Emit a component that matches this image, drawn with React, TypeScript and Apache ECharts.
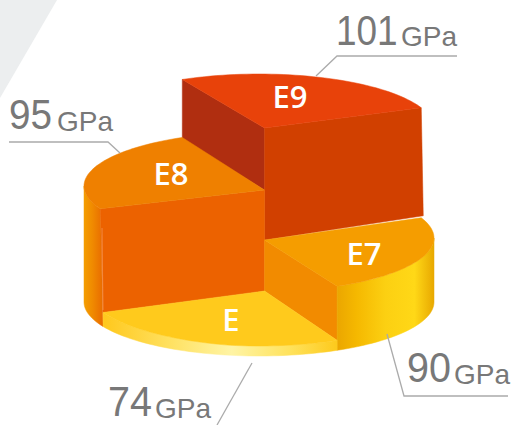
import React, { useEffect, useRef } from "react";
import * as echarts from "echarts";

// Data
const categories = ["E9", "E8", "E7", "E"];
const modulus = [101, 95, 90, 74];
const unit = "GPa";
const sliceFrom = [244, 155, 338, 63.5]; // pie angle of each slice (drawn on a squashed circle)
const sliceTo = [338, 244, 423.5, 153];
const sliceLevel = [128, 186, 238, 292]; // y of each slice's top surface
const apexLevel = [128, 190, 240, 291];

// Layout
const W = 513;
const H = 425;
const CX = 259;
const RX = 175;
const RY = 54;
const APEX_X = 264.5;
const BASE = 302;

const topColors = ["#e8420a", "#ef8000", "#f59d00", "#ffca1c"];
const labelPos = [
  [290, 96],
  [171, 173],
  [364, 253],
  [231, 319],
];
const valueLayout = [
  { x: 336, y: 51, sx: 0.86, ux: 401 },
  { x: 9, y: 136, sx: 0.9, ux: 57 },
  { x: 407, y: 389, sx: 0.92, ux: 454 },
  { x: 108, y: 423, sx: 0.92, ux: 155 },
];
const unitDrop = -1;
const leaders = [
  [[316, 76], [337, 56], [457, 56]],
  [[120, 153], [108, 142], [9, 142]],
  [[387, 334], [404, 396], [508, 396]],
  [[252, 363], [217, 425]],
];

const rad = (d: number) => (d * Math.PI) / 180;
const rim = (t: number, level: number) => [CX + RX * Math.cos(rad(t)), level + RY * Math.sin(rad(t))];
const arc = (a: number, b: number, level: number, tilt = 0) => {
  const pts: number[][] = [];
  const n = Math.max(2, Math.ceil(Math.abs(b - a) / 2));
  for (let k = 0; k <= n; k++) {
    const t = a + ((b - a) * k) / n;
    pts.push(rim(t, level - tilt * Math.max(0, (t - 100) / 53)));
  }
  return pts;
};
const hGrad = (x0: number, x1: number, stops: [number, string][]) =>
  new echarts.graphic.LinearGradient(x0, 0, x1, 0, stops.map(([offset, color]) => ({ offset, color })), true);

export default function App() {
  const ref = useRef<HTMLDivElement>(null);
  useEffect(() => {
    const chart = echarts.init(ref.current!, undefined, { renderer: "svg" });

    const renderItem = (_: any, api: any) => {
      const i = api.value(0);
      const from = sliceFrom[i];
      const to = sliceTo[i];
      const lv = sliceLevel[i];
      const ap = apexLevel[i];
      const c = (p: number[]) => api.coord(p);
      const poly = (pts: number[][], fill: any, stroke?: any) => ({
        type: "polygon",
        shape: { points: pts.map(c) },
        style: { fill, stroke: stroke ?? fill, lineWidth: 0.5 },
      });
      const children: any[] = [];
      const apex = [APEX_X, ap];
      if (i === 0) {
        children.push(
          poly([apex, rim(from, lv), [rim(from, lv)[0], rim(from, sliceLevel[1])[1] + 2], [APEX_X, apexLevel[1]]], "#b02e10"),
          poly([apex, rim(to, lv), [rim(to, sliceLevel[2])[0] + 2, rim(to, sliceLevel[2])[1] - 2], [APEX_X, apexLevel[2]]], "#d14000"),
        );
      }
      if (i === 1) {
        const foot = rim(sliceTo[3], sliceLevel[3] - 4);
        children.push(
          poly([...arc(from, 180, lv), ...arc(180, sliceTo[3], BASE)], hGrad(83, 104, [[0, "#f5a000"], [0.45, "#f08a00"], [1, "#e86800"]])),
          poly([apex, rim(from, lv), foot, [APEX_X, apexLevel[3]]], "#ec6200"),
          {
            type: "line",
            shape: { x1: c([102, 228])[0], y1: c([102, 228])[1], x2: c([103, 310])[0], y2: c([103, 310])[1] },
            style: { stroke: "#f39a5a", lineWidth: 1, opacity: 0.7 },
          },
        );
      }
      if (i === 2) {
        children.push(
          poly([apex, rim(to, lv), rim(to, sliceLevel[3]), [APEX_X, apexLevel[3]]], "#f28b00"),
          poly([...arc(to, 360, lv), ...arc(360, to, BASE)],
            hGrad(337, 434, [[0, "#eba600"], [0.2, "#f5b800"], [0.5, "#fcd012"], [0.8, "#ffd817"], [1, "#e8a800"]])),
        );
      }
      if (i === 3) {
        children.push(
          poly([...arc(from, to, lv, 4), ...arc(to, from, BASE)],
            hGrad(103, 337, [[0, "#ffc81c"], [0.3, "#ffe264"], [0.55, "#fff4a4"], [0.8, "#ffe25c"], [1, "#fdca1c"]])),
        );
      }
      children.push(poly([apex, ...arc(from, to, lv, i === 3 ? 4 : 0)], topColors[i]));
      children.push({
        type: "text",
        x: c(labelPos[i])[0],
        y: c(labelPos[i])[1],
        style: {
          text: categories[i],
          fill: "#ffffff",
          font: '600 31px "Open Sans", sans-serif',
          textAlign: "center",
          verticalAlign: "middle",
        },
      });
      return { type: "group", children };
    };

    const renderValue = (_: any, api: any) => {
      const i = api.value(0);
      const v = valueLayout[i];
      const leader = leaders[i].map((p) => api.coord(p));
      return {
        type: "group",
        children: [
          {
            type: "polyline",
            shape: { points: leader },
            style: { stroke: "#ababab", lineWidth: 1.3, fill: "none" },
          },
          {
            type: "text",
            x: api.coord([v.x, v.y])[0],
            y: api.coord([v.x, v.y])[1],
            scaleX: v.sx,
            style: {
              text: String(api.value(1)),
              fill: "#787878",
              font: '43px "Liberation Sans", Arial, sans-serif',
              textAlign: "left",
              verticalAlign: "bottom",
            },
          },
          {
            type: "text",
            x: api.coord([v.ux, v.y + unitDrop])[0],
            y: api.coord([v.ux, v.y + unitDrop])[1],
            style: {
              text: unit,
              fill: "#787878",
              font: '28px "Liberation Sans", Arial, sans-serif',
              textAlign: "left",
              verticalAlign: "bottom",
            },
          },
        ],
      };
    };

    chart.setOption({
      animation: false,
      backgroundColor: "#ffffff",
      grid: { left: 0, right: 0, top: 0, bottom: 0 },
      xAxis: { type: "value", min: 0, max: W, show: false },
      yAxis: { type: "value", min: 0, max: H, inverse: true, show: false },
      graphic: [
        {
          type: "polygon",
          shape: { points: [[0, 0], [57, 0], [0, 98]] },
          style: { fill: "#eceeef" },
          silent: true,
        },
      ],
      series: [
        {
          type: "custom",
          coordinateSystem: "cartesian2d",
          clip: false,
          silent: true,
          renderItem,
          data: categories.map((name, i) => ({ name, value: [i, modulus[i]] })),
        },
        {
          type: "custom",
          coordinateSystem: "cartesian2d",
          clip: false,
          silent: true,
          renderItem: renderValue,
          data: categories.map((name, i) => ({ name, value: [i, modulus[i]] })),
        },
      ],
    });
    return () => chart.dispose();
  }, []);
  return <div ref={ref} style={{ position: "absolute", left: 0, top: 0, width: W, height: H }} />;
}
